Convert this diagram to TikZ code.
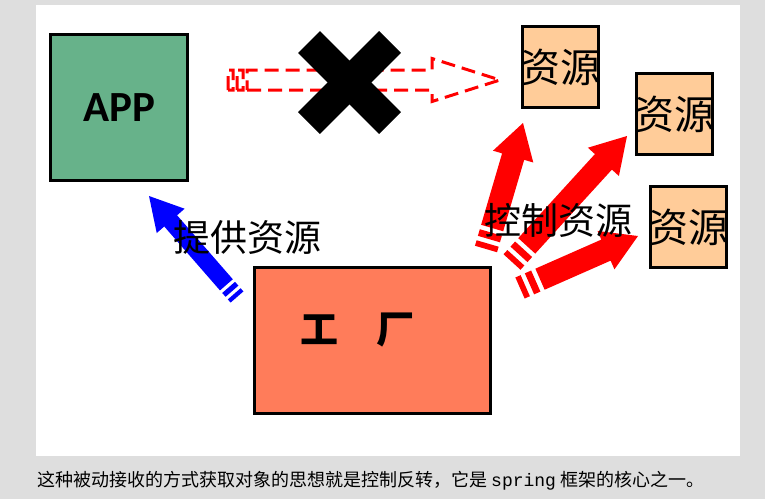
\documentclass[tikz,border=0pt]{standalone}
\usepackage{fontspec}
\setmainfont{Noto Sans CJK SC}
\newfontfamily\appfont{Carlito}
\setmonofont{Liberation Mono}
\usetikzlibrary{calc,positioning}
\definecolor{pagegray}{RGB}{222,222,222}
\definecolor{appgreen}{RGB}{103,178,138}
\definecolor{factorycoral}{RGB}{255,124,90}
\definecolor{respeach}{RGB}{255,204,153}
\tikzset{
  box/.style={draw=black, line width=3pt, inner sep=0pt},
  appbox/.style={box, fill=appgreen, minimum width=137pt, minimum height=146pt, font=\appfont\bfseries\fontsize{43}{45}\selectfont},
  factorybox/.style={box, fill=factorycoral, minimum width=236pt, minimum height=146pt},
  resbox/.style={box, fill=respeach, minimum width=76pt, minimum height=81pt},
  restext/.style={font=\fontsize{40}{42}\selectfont},
  biglabel/.style={font=\fontsize{37}{39}\selectfont, inner sep=0pt},
  caption/.style={font=\fontsize{18}{20}\selectfont, inner sep=0pt, anchor=west}
}
% fill/draw options, body width, head width, head length, tail, tip
\newcommand{\stripedarrow}[6]{%
  \path[#1] let \p1=(#5), \p2=(#6), \n1={atan2(\y2-\y1,\x2-\x1)}, \n2={veclen(\x2-\x1,\y2-\y1)} in
    [shift={(\p1)}, rotate=\n1]
    (0pt,{-#2*0.5pt}) rectangle ({#2*0.25pt},{#2*0.5pt})
    ({#2*0.45pt},{-#2*0.5pt}) rectangle ({#2*0.75pt},{#2*0.5pt})
    ({#2*0.95pt},{-#2*0.5pt}) -- ({\n2-#4*1pt},{-#2*0.5pt}) -- ({\n2-#4*1pt},{-#3*0.5pt})
    -- (\n2,0pt) -- ({\n2-#4*1pt},{#3*0.5pt}) -- ({\n2-#4*1pt},{#2*0.5pt}) -- ({#2*0.95pt},{#2*0.5pt}) -- cycle;
}

\begin{document}
\begin{tikzpicture}[x=1pt, y=-1pt]
  \fill[pagegray] (0,0) rectangle (765,499);
  \fill[white] (36,5) rectangle (740,456);

  \node[appbox] (app) at (119,107.5) {APP};
  \node[factorybox, label={[font=\bfseries\fontsize{38}{40}\selectfont, xshift=-15pt, yshift=10pt]center:工　厂}] (factory) at (372.5,340.5) {};
  \node[resbox, label={[restext]center:资源}] (res1) at (560,67) {};
  \node[resbox, label={[restext]center:资源}] (res2) at (674.5,114) {};
  \node[resbox, label={[restext]center:资源}] (res3) at (688.5,227) {};

  \coordinate (ghost tail) at (228,80);
  \coordinate (ghost tip) at (500,80);
  \stripedarrow{draw=red, line width=3pt, dashed, dash pattern=on 14pt off 7pt}{20}{43}{68}{ghost tail}{ghost tip}

  \draw[line width=31pt] (309,42) -- (390,123);
  \draw[line width=31pt] (390,42) -- (309,123);

  \coordinate (give tail) at (237,297);
  \coordinate (give tip) at (149,196);
  \stripedarrow{fill=blue}{17}{37}{33}{give tail}{give tip}

  \coordinate (ctrl tail a) at (486,249);
  \coordinate (ctrl tip a) at (523,123);
  \coordinate (ctrl tail b) at (512,262);
  \coordinate (ctrl tip b) at (627,136);
  \coordinate (ctrl tail c) at (520,288);
  \coordinate (ctrl tip c) at (638,236);
  \stripedarrow{fill=red}{23}{42}{35}{ctrl tail a}{ctrl tip a}
  \stripedarrow{fill=red}{23}{42}{35}{ctrl tail b}{ctrl tip b}
  \stripedarrow{fill=red}{23}{42}{35}{ctrl tail c}{ctrl tip c}

  \node[biglabel] (give) at (247,237) {提供资源};
  \node[biglabel] (ctrl) at (558,220) {控制资源};

  \node[caption] (note) at (37,481) {这种被动接收的方式获取对象的思想就是控制反转，它是 {\ttfamily spring} 框架的核心之一。};
\end{tikzpicture}
\end{document}
